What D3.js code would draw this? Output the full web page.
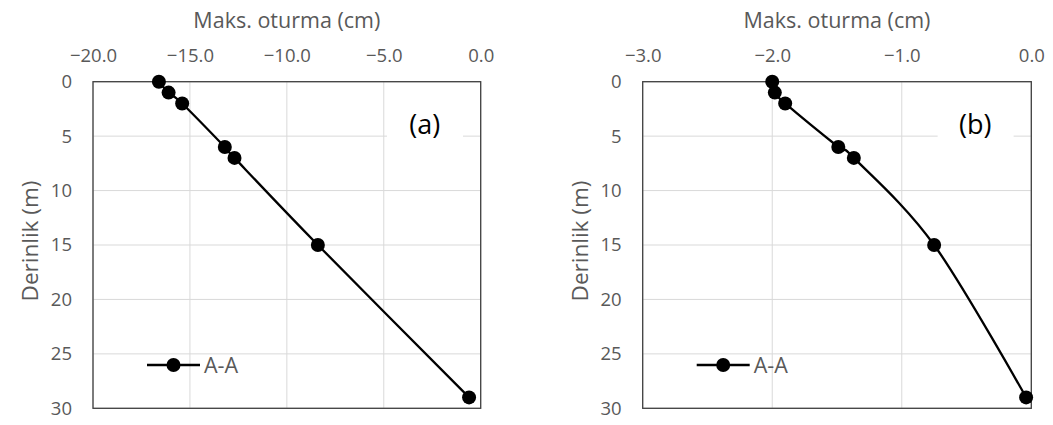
<!DOCTYPE html>
<html>
<head>
<meta charset="utf-8">
<script src="https://cdn.jsdelivr.net/npm/d3@7"></script>
<style>
  body { margin: 0; background: #fff; }
  svg { display: block; font-family: "Open Sans", sans-serif; }
</style>
</head>
<body>
<svg id="chart" width="1053" height="425"></svg>
<script>
// depth (m) and max settlement (cm) for section A-A
var depths = [0, 1, 2, 6, 7, 15, 29];
var settleA = [-16.6, -16.1, -15.4, -13.2, -12.7, -8.4, -0.6];
var settleB = [-2.0, -1.98, -1.9, -1.49, -1.37, -0.75, -0.04];
var xTicksA = [-20, -15, -10, -5, 0];
var xTicksB = [-3, -2, -1, 0];
var yTicks = [0, 5, 10, 15, 20, 25, 30];
var seriesName = "A-A";
var xTitle = "Maks. oturma (cm)";
var yTitle = "Derinlik (m)";

var svg = d3.select("#chart");
var textColor = "#595959";

function drawPanel(left, right, xDomain, xTicks, values, tag) {
    var top = 81.7, bottom = 408.3;
    var x = d3.scaleLinear().domain(xDomain).range([left, right]);
    var y = d3.scaleLinear().domain([0, 30]).range([top, bottom]);
    var g = svg.append("g");

    // grid
    g.selectAll("line.vg").data(xTicks).enter().append("line")
        .attr("x1", function(d) { return x(d); }).attr("x2", function(d) { return x(d); })
        .attr("y1", top).attr("y2", bottom)
        .attr("stroke", "#d9d9d9").attr("stroke-width", 1);
    g.selectAll("line.hg").data(yTicks).enter().append("line")
        .attr("x1", left).attr("x2", right)
        .attr("y1", function(d) { return y(d); }).attr("y2", function(d) { return y(d); })
        .attr("stroke", "#d9d9d9").attr("stroke-width", 1);

    // panel tag with white box
    g.append("rect")
        .attr("x", right - 93.7).attr("y", 104)
        .attr("width", 76).attr("height", 46)
        .attr("fill", "#fff");
    g.append("text")
        .attr("x", right - 56).attr("y", 134)
        .attr("text-anchor", "middle")
        .attr("font-size", 27)
        .attr("fill", "#000")
        .text(tag);

    g.append("rect")
        .attr("x", left).attr("y", top)
        .attr("width", right - left).attr("height", bottom - top)
        .attr("fill", "none").attr("stroke", "#404040").attr("stroke-width", 1.3);

    // axes
    var xAxis = g.append("g").attr("transform", "translate(0," + top + ")")
        .call(d3.axisTop(x).tickValues(xTicks).tickSize(0).tickPadding(20).tickFormat(d3.format(".1f")));
    var yAxis = g.append("g").attr("transform", "translate(" + left + ",0)")
        .call(d3.axisLeft(y).tickValues(yTicks).tickSize(0).tickPadding(21));
    [xAxis, yAxis].forEach(function(a) {
        a.select(".domain").remove();
        a.selectAll("text").attr("font-size", 18.5).attr("fill", textColor)
            .attr("font-family", "Open Sans, sans-serif");
    });

    g.append("text")
        .attr("x", (left + right) / 2).attr("y", 28.3)
        .attr("text-anchor", "middle").attr("font-size", 21.5).attr("fill", textColor)
        .text(xTitle);
    g.append("text")
        .attr("transform", "translate(" + (left - 55) + "," + ((top + bottom) / 2 - 4) + ") rotate(-90)")
        .attr("text-anchor", "middle").attr("font-size", 22.5).attr("fill", textColor)
        .text(yTitle);

    // series
    var pts = depths.map(function(d, i) { return { depth: d, val: values[i] }; });
    var line = d3.line()
        .x(function(d) { return x(d.val); })
        .y(function(d) { return y(d.depth); })
        .curve(d3.curveCardinal.tension(0));
    g.append("path").datum(pts)
        .attr("d", line)
        .attr("fill", "none").attr("stroke", "#000").attr("stroke-width", 2.3);
    g.selectAll("circle.pt").data(pts).enter().append("circle")
        .attr("cx", function(d) { return x(d.val); })
        .attr("cy", function(d) { return y(d.depth); })
        .attr("r", 7).attr("fill", "#000");

    // legend
    var ly = 365;
    g.append("line").attr("x1", left + 54).attr("x2", left + 107)
        .attr("y1", ly).attr("y2", ly).attr("stroke", "#000").attr("stroke-width", 2.3);
    g.append("circle").attr("cx", left + 80.5).attr("cy", ly).attr("r", 7).attr("fill", "#000");
    g.append("text").attr("x", left + 111).attr("y", ly + 7.5)
        .attr("font-size", 21.5).attr("fill", textColor).text(seriesName);
}

drawPanel(93, 480.7, [-20, 0], xTicksA, settleA, "(a)");
drawPanel(642.7, 1031.3, [-3, 0], xTicksB, settleB, "(b)");
</script>
</body>
</html>
